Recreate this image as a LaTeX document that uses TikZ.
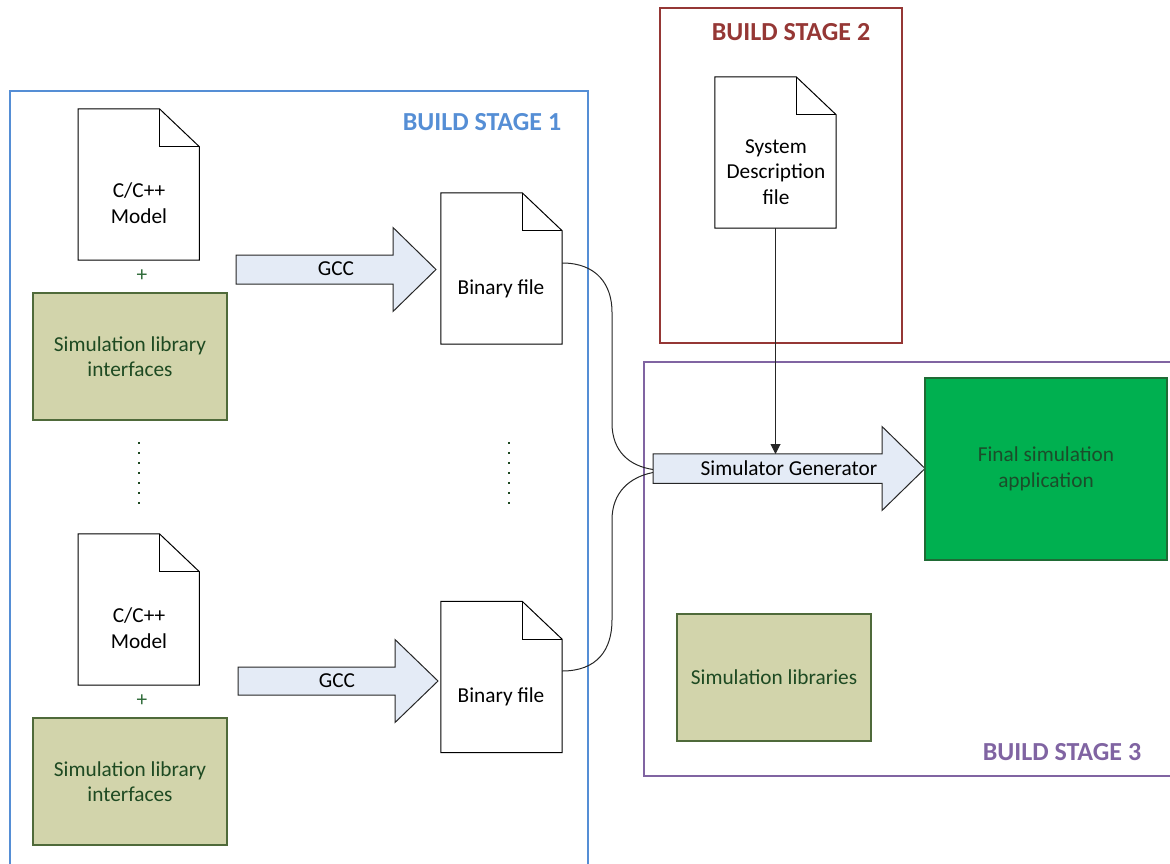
\documentclass[tikz,border=0pt]{standalone}
\usepackage{fontspec}
\setmainfont{Carlito}
\usetikzlibrary{arrows.meta}

\definecolor{stageone}{HTML}{558ED5}
\definecolor{stagetwo}{HTML}{953735}
\definecolor{stagethree}{HTML}{8064A2}
\definecolor{olivefill}{HTML}{D2D4AB}
\definecolor{oliveline}{HTML}{4F6A3A}
\definecolor{olivetext}{HTML}{1E4A22}
\definecolor{arrowfill}{HTML}{E4EBF6}
\definecolor{appgreen}{HTML}{00B050}
\definecolor{appline}{HTML}{1F6B35}
\definecolor{apptext}{HTML}{1B4D2A}
\definecolor{plusgreen}{HTML}{2F6B3A}

% outline of a sheet with a folded top-right corner, drawn around a named node
\newcommand\docsheet[1]{%
  \draw[sheetline] (#1.north west) -- ([xshift=-40pt]#1.north east)
    -- ([yshift=-38pt]#1.north east) -- (#1.south east) -- (#1.south west) -- cycle;
  \draw[sheetline] ([xshift=-40pt]#1.north east) |- ([yshift=-38pt]#1.north east);}

% block arrow: tail x, head base x, tip x, middle y, half shaft, half head
\newcommand\blockarrow[6]{%
  \draw[blockarr] (#1,#4-#5) -- (#2,#4-#5) -- (#2,#4-#6) -- (#3,#4)
    -- (#2,#4+#6) -- (#2,#4+#5) -- (#1,#4+#5) -- cycle;}

\tikzset{
  txt/.style={font=\fontsize{21.3}{25.5}\selectfont, align=center, inner sep=0pt},
  stagelabel/.style={font=\fontsize{26}{30}\selectfont\bfseries, inner sep=0pt},
  sheet/.style={rectangle, inner sep=0pt, minimum width=121pt, minimum height=151pt},
  sheetline/.style={draw=black, line width=1pt, line join=miter},
  libbox/.style={rectangle, draw=oliveline, fill=olivefill, line width=1.3pt,
    minimum width=194pt, minimum height=127pt, txt, text=olivetext},
  blockarr/.style={draw=black!85, fill=arrowfill, line width=1pt, line join=miter},
  plus/.style={txt, text=plusgreen},
  dot/.style={fill=olivetext, minimum size=2.2pt, inner sep=0pt, rectangle},
  flow/.style={draw=black!85, line width=1pt},
}

\begin{document}
\begin{tikzpicture}[x=1pt,y=-1pt]
\useasboundingbox (0,0) rectangle (1170,864);

% stage frames
\draw[stageone, line width=2pt] (10,864) -- (10,91) -- (588,91) -- (588,864);
\draw[stagetwo, line width=2pt] (660,8) rectangle (902,343);
\draw[stagethree, line width=2pt] (1170,362) -- (644,362) -- (644,776) -- (1170,776);
\node[stagelabel, text=stageone] (lab1) at (482,122) {BUILD STAGE 1};
\node[stagelabel, text=stagetwo] (lab2) at (791,32) {BUILD STAGE 2};
\node[stagelabel, text=stagethree] (lab3) at (1062,752) {BUILD STAGE 3};

% upper model
\node[sheet] (model1) at (138.75,184.5) {};
\docsheet{model1}
\node[txt] (model1t) at (139,203) {C/C++\\Model};
\node[plus] (plus1) at (142,276) {+};
\node[libbox] (lib1) at (130,356.5) {Simulation library\\interfaces};

% lower model
\node[sheet] (model2) at (138.75,609.5) {};
\docsheet{model2}
\node[txt] (model2t) at (139,628) {C/C++\\Model};
\node[plus] (plus2) at (142,701) {+};
\node[libbox] (lib2) at (130,781.5) {Simulation library\\interfaces};

% compile arrows
\blockarrow{236}{393}{436}{269.5}{14.5}{42}
\node[txt] (gcc1) at (336,269) {GCC};
\blockarrow{238}{395}{438}{681}{14}{41.5}
\node[txt] (gcc2) at (337,681) {GCC};

% binaries
\node[sheet] (bin1) at (501.5,268.5) {};
\docsheet{bin1}
\node[txt] (bin1t) at (501,289) {Binary file};
\node[sheet] (bin2) at (501.5,677) {};
\docsheet{bin2}
\node[txt] (bin2t) at (501,697) {Binary file};

% elided models
\foreach \k in {0,...,6} {
  \node[dot] (dl\k) at (139,442.7+10.1*\k) {};
  \node[dot] (dr\k) at (509,442.7+10.1*\k) {};
}

% system description
\node[sheet] (sysdesc) at (775.5,152.5) {};
\docsheet{sysdesc}
\node[txt] (sysdesct) at (776,172) {System\\Description\\file};

% simulator generator
\blockarrow{653}{882}{925}{468.5}{14.75}{42}
\node[txt] (simgen) at (789,468) {Simulator Generator};
\coordinate (sgtop) at (775.5,454);
\coordinate (sgin1) at (653,469.5);
\coordinate (sgin2) at (653,472.5);
\draw[flow, -{Triangle[length=10pt,width=10pt]}] (sysdesc.south) -- (sgtop);

% binaries feeding the generator
\draw[flow] ([yshift=5.5pt]bin1.east) .. controls (597,263) and (612,285) .. (612,312)
  -- (612,423) .. controls (612,452) and (630,466) .. (sgin1);
\draw[flow] ([yshift=6pt]bin2.east) .. controls (597,671) and (612,650) .. (612,620)
  -- (612,520) .. controls (612,492) and (630,477) .. (sgin2);

% results
\node[rectangle, draw=appline, fill=appgreen, line width=1.3pt, minimum width=242pt,
  minimum height=182pt, txt, text=apptext] (final) at (1046,469) {Final simulation\\application};
\node[libbox] (simlibs) at (774,677.5) {Simulation libraries};
\end{tikzpicture}
\end{document}
